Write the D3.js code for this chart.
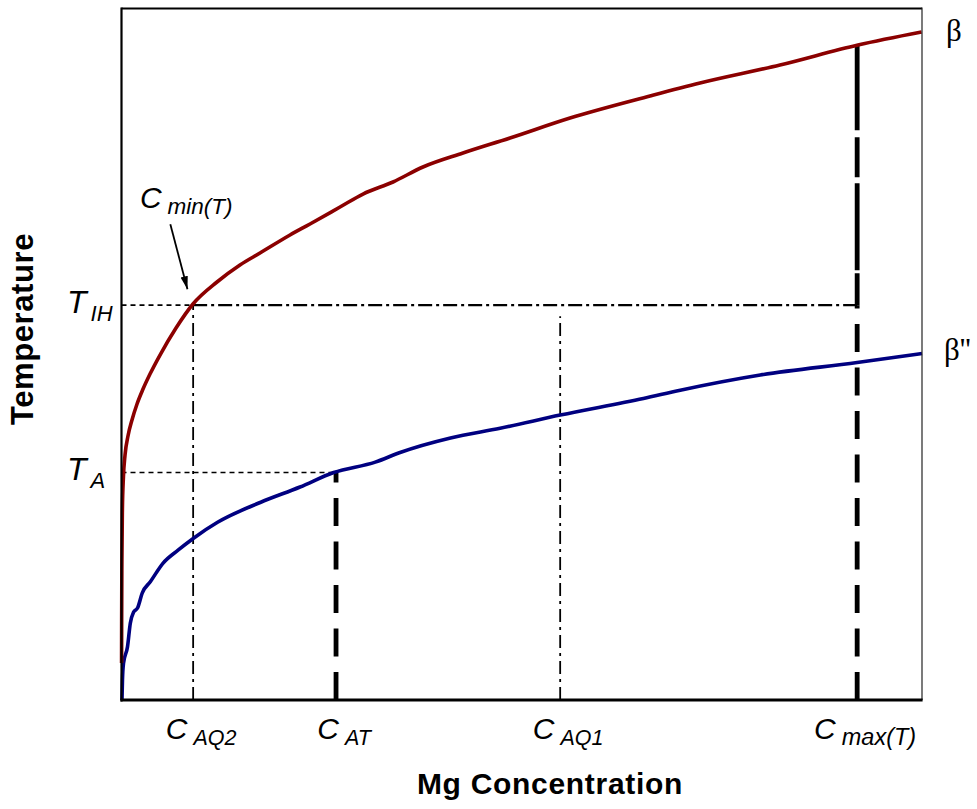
<!DOCTYPE html>
<html>
<head>
<meta charset="utf-8">
<script src="https://cdn.jsdelivr.net/npm/d3@7"></script>
<style>
  html, body { margin: 0; padding: 0; background: #fff; }
  svg { display: block; }
</style>
</head>
<body>
<svg id="chart" width="977" height="809"></svg>
<script>
// ---------------- DATA ----------------
// Normalised units: concentration 0-100 (x), temperature 0-100 (y)
const betaX  = [0.01, 0.02, 0.05, 0.11, 0.24, 0.44, 0.81, 1.31, 1.94, 2.69, 3.56, 4.81, 6.81, 8.93, 11.93, 14.80, 17.30, 21.05, 23.55, 27.30, 30.17, 33.92, 37.66, 42.66, 48.53, 56.03, 66.02, 72.27, 82.26, 92.00, 99.94];
const betaY  = [5.35, 11.57, 20.25, 27.48, 32.25, 35.43, 38.18, 40.49, 42.81, 44.97, 47.14, 49.89, 53.80, 57.27, 60.45, 62.91, 64.64, 67.25, 68.84, 71.29, 73.17, 74.91, 77.08, 79.10, 81.27, 84.16, 87.35, 89.23, 91.83, 94.72, 96.60];
const beta2X = [0.06, 0.12, 0.25, 0.75, 1.1, 1.5, 2.0, 2.6, 3.6, 5.2, 7.1, 9.0, 12.0, 17.4, 22.3, 26.5, 31.7, 34.8, 41.1, 47.3, 54.8, 65.2, 69.8, 79.8, 91.9, 100];
const beta2Y = [0, 2.9, 5.3, 7.7, 11.1, 12.7, 13.3, 15.5, 17.1, 19.8, 21.7, 23.4, 25.7, 28.6, 30.8, 32.9, 34.4, 35.8, 37.9, 39.3, 41.2, 43.6, 44.8, 47.0, 48.8, 50.1];
const seriesNames = ["β", "β''"];

const xTickSubs   = ["AQ2", "AT", "AQ1", "max(T)"];
const xTickValues = [8.95, 26.8, 54.8, 91.9];
const yTickSubs   = ["IH", "A"];
const yTickValues = [57.1, 32.9];

const cMinLabel = ["C", "min(T)"];
const cMinPos   = [2.3, 71.1];     // label anchor (data units)
const arrowFrom = [6.1, 68.8];
const arrowTo   = [8.24, 59.4];
const cMaxTop   = 94.65;           // β curve at C_max(T)
const cAQ1Top   = 55.5;            // top of C_AQ1 guide

const xTitle = "Mg Concentration";
const yTitle = "Temperature";

// ---------------- LAYOUT ----------------
const L = 121.5, R = 922, T = 8.5, B = 700;
const svg = d3.select("#chart");
const x = d3.scaleLinear().domain([0, 100]).range([L, R]);
const y = d3.scaleLinear().domain([0, 100]).range([B, T]);
const FONT = "'Liberation Sans', Arial, Helvetica, sans-serif";
const SERIF = "'Liberation Serif', 'Times New Roman', serif";

const line = d3.line().x(d => x(d[0])).y(d => y(d[1])).curve(d3.curveMonotoneX);
const seg = (pts, w, dash, color) => svg.append("path")
  .attr("d", d3.line().x(d => x(d[0])).y(d => y(d[1]))(pts))
  .attr("fill", "none").attr("stroke", color || "#000")
  .attr("stroke-width", w).attr("stroke-dasharray", dash);

// guide lines
const [cAQ2, cAT, cAQ1, cMax] = xTickValues;
const [tIH, tA] = yTickValues;
seg([[0, tIH], [cAQ2, tIH]], 1.7, "5,4");
seg([[cAQ2, tIH], [cMax, tIH]], 2.4, "14,4,3,4");
seg([[0, tA], [cAT, tA]], 1.7, "5,4");
seg([[cAQ2, 0], [cAQ2, tIH]], 1.8, "13,5,3,5");
seg([[cAQ1, 0], [cAQ1, cAQ1Top]], 1.8, "13,5,3,5");
seg([[cAT, 0], [cAT, tA]], 4.8, "28,15.5");
seg([[cMax, 0], [cMax, tIH]], 4.8, "28,15.5");
seg([[cMax, tIH], [cMax, cMaxTop]], 4.8, "32,3,87,6,40,7,95");

// curves
svg.append("path").datum(d3.zip(beta2X, beta2Y)).attr("d", line)
  .attr("fill", "none").attr("stroke", "#000080").attr("stroke-width", 3.6)
  .attr("stroke-linejoin", "round");
svg.append("path").datum(d3.zip(betaX, betaY)).attr("d", line)
  .attr("fill", "none").attr("stroke", "#8b0000").attr("stroke-width", 3.6)
  .attr("stroke-linejoin", "round");

// frame
const frame = svg.append("g");
frame.append("line").attr("x1", L).attr("x2", R).attr("y1", T).attr("y2", T).attr("stroke", "#000").attr("stroke-width", 2);
frame.append("line").attr("x1", R).attr("x2", R).attr("y1", T - 1).attr("y2", B).attr("stroke", "#222").attr("stroke-width", 1.2);
frame.append("line").attr("x1", L).attr("x2", L).attr("y1", T - 1).attr("y2", B + 1.5).attr("stroke", "#000").attr("stroke-width", 2.2);
frame.append("line").attr("x1", L - 1).attr("x2", R + 0.6).attr("y1", B).attr("y2", B).attr("stroke", "#000").attr("stroke-width", 3);

// x tick labels
xTickValues.forEach((v, i) => {
  const t = svg.append("text").attr("x", x(v) + 8).attr("y", 739)
    .attr("text-anchor", "middle").attr("font-family", FONT)
    .attr("font-style", "italic").attr("fill", "#000");
  t.append("tspan").attr("font-size", 30).text("C");
  t.append("tspan").attr("font-size", xTickSubs[i].includes("(") ? 23.5 : 21.5)
    .attr("dx", 6).attr("dy", 6).text(xTickSubs[i]);
});

// y tick labels
yTickValues.forEach((v, i) => {
  const t = svg.append("text").attr("x", 67).attr("y", y(v) + 8)
    .attr("font-family", FONT).attr("font-style", "italic").attr("fill", "#000");
  t.append("tspan").attr("font-size", 32).text("T");
  t.append("tspan").attr("font-size", 22).attr("dx", 4).attr("dy", 8).text(yTickSubs[i]);
});

// C_min(T) annotation
{
  const t = svg.append("text").attr("x", x(cMinPos[0])).attr("y", y(cMinPos[1]))
    .attr("font-family", FONT).attr("font-style", "italic").attr("fill", "#000");
  t.append("tspan").attr("font-size", 30).text(cMinLabel[0]);
  t.append("tspan").attr("font-size", 22.5).attr("dx", 6).attr("dy", 6).text(cMinLabel[1]);
}
svg.append("defs").append("marker").attr("id", "arr")
  .attr("viewBox", "0 0 13 9").attr("refX", 13).attr("refY", 4.5)
  .attr("markerWidth", 13).attr("markerHeight", 9).attr("markerUnits", "userSpaceOnUse")
  .attr("orient", "auto")
  .append("path").attr("d", "M0,0.8 L13,4.5 L0,8.2 Z").attr("fill", "#000");
svg.append("line")
  .attr("x1", x(arrowFrom[0])).attr("y1", y(arrowFrom[1]))
  .attr("x2", x(arrowTo[0])).attr("y2", y(arrowTo[1]))
  .attr("stroke", "#000").attr("stroke-width", 1.8).attr("marker-end", "url(#arr)");

// series labels
svg.append("text").attr("x", 946).attr("y", y(betaY[betaY.length - 1]) + 9)
  .attr("font-family", SERIF).attr("font-size", 31).attr("fill", "#000").text(seriesNames[0]);
svg.append("text").attr("x", 944).attr("y", y(beta2Y[beta2Y.length - 1]) + 6)
  .attr("font-family", SERIF).attr("font-size", 31).attr("fill", "#000").text(seriesNames[1]);

// axis titles
svg.append("text").attr("x", 550).attr("y", 794).attr("text-anchor", "middle")
  .attr("font-family", FONT).attr("font-weight", "bold").attr("font-size", 30)
  .attr("letter-spacing", 0.7).text(xTitle);
svg.append("text").attr("transform", "translate(33,329) rotate(-90)").attr("text-anchor", "middle")
  .attr("font-family", FONT).attr("font-weight", "bold").attr("font-size", 31)
  .attr("letter-spacing", 0.6).text(yTitle);
</script>
</body>
</html>
